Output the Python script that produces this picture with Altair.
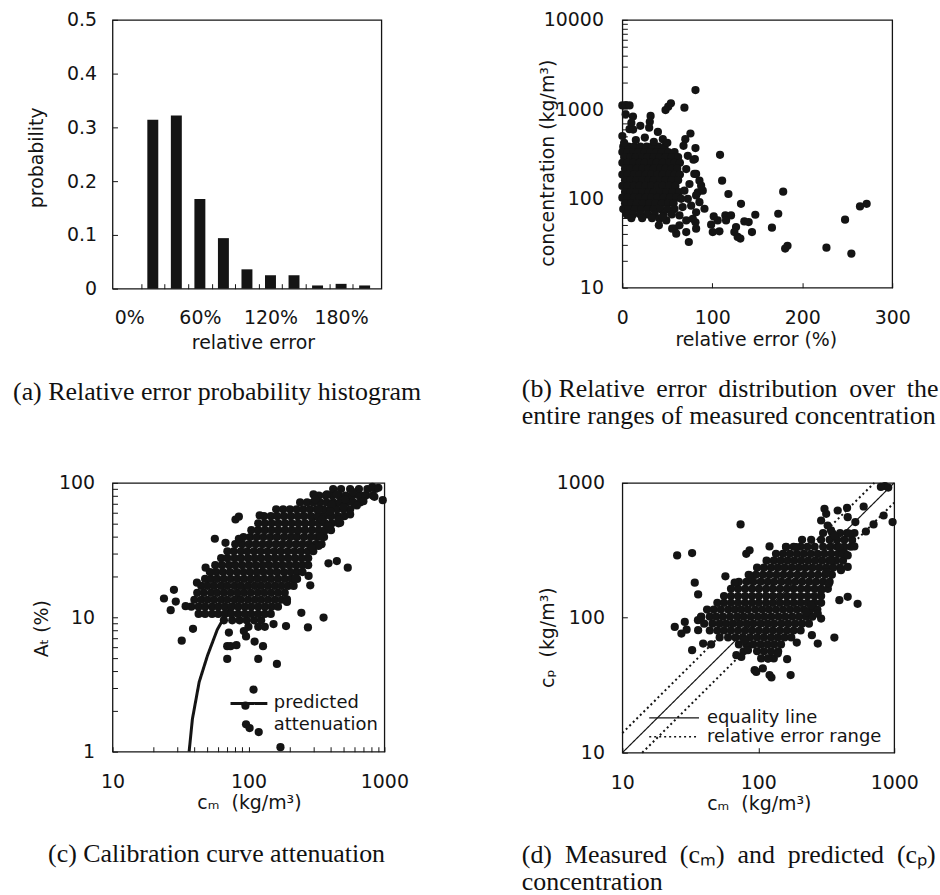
import altair as alt
import pandas as pd

INK = "#141414"
FONT = "DejaVu Sans"
SERIF = "Liberation Serif"

# ---------------- (a) relative error histogram ----------------
A_BIN = [20, 40, 60, 80, 100, 120, 140, 160, 180, 200]
A_PROB = [0.314, 0.322, 0.167, 0.094, 0.036, 0.025, 0.025, 0.006, 0.009, 0.006]
A_X_VALUES = [0, 10, 20, 30, 40, 50, 60, 70, 80, 90, 100, 110, 120, 130, 140, 150,
              160, 170, 180, 190, 200]
A_Y_VALUES = [0, 0.1, 0.2, 0.3, 0.4, 0.5]

# ---------------- (b) relative error vs concentration ----------------
B_CORE_CONC = [380, 330, 290, 250, 215, 185, 160, 138, 118, 102, 88, 76, 66, 60]
B_CORE_ERR = [
    [1, 7, 13, 20, 27, 33, 40, 47],
    [0, 6, 12, 18, 25, 31, 38, 44, 51, 58],
    [2, 9, 15, 22, 28, 35, 41, 48, 55, 62],
    [0, 6, 12, 19, 25, 32, 38, 45, 52, 58, 64],
    [3, 9, 16, 22, 29, 35, 42, 48, 55, 61],
    [0, 6, 13, 19, 26, 32, 39, 45, 52, 58, 64],
    [3, 9, 16, 22, 29, 35, 42, 48, 55, 62],
    [0, 6, 13, 19, 26, 32, 39, 45, 52, 59],
    [3, 9, 16, 22, 29, 35, 42, 49, 56, 63],
    [0, 6, 13, 19, 26, 32, 39, 46, 53, 60],
    [3, 10, 16, 23, 30, 37, 44, 51, 57],
    [1, 7, 14, 21, 28, 35, 42, 50, 58],
    [5, 12, 20, 28, 36, 46, 55],
    [10, 22, 33],
]
B_OUT_ERR = [81.3, 0, 4, 8, 3.7, 11.8, 54, 51, 48, 69, 31.4, 30.5, 29.8, 0, 8, 12, 39.5, 45,
             75.7, 70, 81.3, 108.6, 110.9, 117.9, 131.9, 91.3, 101.6, 106, 98.7, 100.5, 107.9,
             114.5, 120.8, 115.3, 126.4, 124.5, 128.2, 131.2, 135.6, 140.4, 147.8, 144.1, 178.8,
             173.3, 166.3, 181, 183.6, 226.9, 247.6, 254.6, 264.2, 271.6, 73.9, 59.9, 58, 71, 82,
             81.3, 82, 78.3, 85.7, 83.9, 85.7, 82, 80.6, 89.4, 41.4, 40.6, 68, 72.8, 79, 71, 80,
             74.6, 69, 82, 72.8, 76.5, 65.4, 67, 63.5, 71, 63.5, 55.4, 48.8, 45, 87.6, 10, 20, 25,
             15, 35, 50, 2]
B_OUT_CONC = [1634, 1100, 1110, 1100, 875, 824, 1160, 1064, 977, 1038, 840, 720, 620, 500, 596,
              590, 556, 461, 533, 461, 366, 308, 158, 112, 87, 76.6, 62.9, 56.7, 50.8, 42, 42.8,
              64.5, 64.5, 56.7, 47.8, 42, 37, 35.5, 55.3, 54.3, 65.6, 42, 119, 67.3, 47, 27.4,
              29.4, 28.1, 57.7, 24.1, 81.3, 87, 32.5, 40.3, 45.8, 42, 45.8, 54, 70, 59, 90.8, 117,
              158, 188, 276, 122, 59, 50, 388, 300, 271, 213, 188, 145, 122, 108, 99, 83, 99, 80,
              64.5, 56.7, 50, 45.8, 56.7, 62, 139, 700, 650, 480, 450, 430, 420, 420]

# ---------------- (c) calibration curve attenuation ----------------
C_LINE_CM = [36.6, 38.7, 43.4, 50, 59, 70, 85, 100, 130, 170, 220, 300, 435, 600, 800, 955]
C_LINE_AT = [1, 1.75, 3.3, 5.2, 8.1, 11, 14.5, 17.5, 24, 32, 41, 53, 68, 79, 88, 92]
C_CORE_AT = [8.5, 9.5, 10.6, 12, 13.5, 15.2, 17.1, 19.3, 21.7, 24.4, 27.5, 31, 35, 39.5, 44.5,
             50, 56.5, 63.5, 71.5, 80.5, 90]
C_CORE_CM = [
    [100, 118, 132],
    [66, 76, 86, 97, 110, 124],
    [43, 48, 54, 60, 67, 75, 84, 94, 105, 118, 132, 146],
    [38, 43, 48, 54, 60, 67, 75, 84, 94, 105, 118, 132, 148, 165],
    [40, 45, 50, 56, 63, 70, 79, 88, 99, 111, 124, 139, 156, 175],
    [42, 47, 53, 59, 66, 74, 83, 93, 104, 117, 131, 147, 165, 185],
    [45, 50, 56, 63, 70, 79, 88, 99, 111, 124, 139, 156, 175, 196, 215],
    [48, 53, 59, 66, 74, 83, 93, 104, 117, 131, 147, 165, 185, 207, 228],
    [52, 58, 65, 73, 82, 92, 103, 115, 129, 145, 162, 182, 204, 228, 250],
    [57, 64, 72, 80, 90, 101, 113, 127, 142, 159, 178, 200, 224, 250, 275],
    [63, 70, 79, 88, 99, 111, 124, 139, 156, 175, 196, 220, 246, 275],
    [70, 78, 88, 98, 110, 123, 138, 155, 173, 194, 218, 244, 273, 300],
    [80, 90, 101, 113, 127, 142, 159, 178, 200, 224, 250, 280, 314, 345],
    [92, 103, 115, 129, 145, 162, 182, 204, 228, 256, 287, 321, 360],
    [105, 118, 132, 148, 166, 186, 208, 233, 261, 293, 328, 367, 405],
    [118, 132, 148, 166, 186, 208, 233, 261, 293, 328, 367, 411, 460],
    [130, 146, 163, 183, 205, 230, 257, 288, 323, 362, 405, 454, 508],
    [160, 180, 202, 226, 253, 283, 317, 355, 398, 446, 500, 560],
    [240, 270, 300, 336, 376, 421, 472, 528, 592, 663],
    [330, 370, 414, 464, 520, 582, 652, 730, 820],
    [420, 480, 560, 650, 750, 860],
]
C_OUT_CM = [23.9, 28.3, 26.8, 29.2, 32.3, 34.5, 39.1, 41.8, 48.4, 56.6, 67.8, 80.3, 85, 85, 121,
            71.8, 69.8, 73.8, 81.6, 69.8, 92.5, 96, 118, 109, 95, 96, 102, 119, 172, 111, 128,
            162, 153, 189, 274, 245, 357, 388, 447, 538, 285, 277, 221, 192, 192, 301, 378, 447,
            586, 816, 903, 845, 973, 701, 627, 560, 473, 388, 460, 337, 328, 293, 310, 411, 328,
            500, 399, 347, 514]
C_OUT_AT = [13.8, 16, 11.3, 13.1, 6.7, 12.1, 8.2, 18.1, 23.4, 38.4, 35.8, 53.4, 56, 38.4, 57.2,
            7.7, 6.1, 6.1, 6.2, 4.9, 7.9, 7.2, 4.9, 2.9, 2.2, 1.6, 1.5, 1.4, 1.08, 6.6, 6.1, 4.5,
            8.9, 8.6, 8.4, 10.8, 9.95, 25.2, 26.2, 23.4, 17.3, 20.3, 19.4, 13.6, 13, 82, 82, 82,
            85.3, 93.4, 91.8, 78.7, 74.3, 73.1, 67.9, 58.2, 50.4, 47.7, 53.4, 40.2, 33.9, 32.9,
            75.2, 69, 63.4, 66.4, 61.6, 53.4, 75.2]

# ---------------- (d) measured vs predicted ----------------
D_EQ_CM = [10, 1000]
D_EQ_CP = [10, 1000]
D_RNG_CM = [10, 714, 14, 1000]
D_RNG_CP = [14, 1000, 10, 714]
D_RNG_SEG = ["upper", "upper", "lower", "lower"]
D_CORE_CP = [50, 56.5, 63.5, 71.5, 80.5, 90.5, 102, 115, 129, 145, 164, 185, 208, 235, 265, 298,
             336, 378, 425]
D_CORE_CM = [
    [105, 118, 130],
    [78, 98, 110, 124, 140],
    [45, 72, 82, 92, 104, 117, 131, 147],
    [52, 60, 68, 77, 87, 98, 110, 124, 139, 156, 175],
    [44, 50, 56, 63, 71, 80, 90, 101, 114, 128, 144, 162, 182, 205],
    [40, 46, 52, 58, 65, 73, 82, 92, 104, 117, 131, 148, 166, 187, 210, 236],
    [38, 44, 49, 55, 62, 70, 78, 88, 99, 111, 125, 141, 158, 178, 200, 225, 250],
    [42, 47, 53, 60, 67, 75, 84, 95, 107, 120, 135, 152, 171, 192, 216, 243, 272],
    [50, 56, 63, 71, 80, 90, 101, 114, 128, 144, 162, 182, 205, 230, 259, 290],
    [56, 63, 71, 80, 90, 101, 114, 128, 144, 162, 182, 205, 230, 259, 290],
    [63, 71, 80, 90, 101, 114, 128, 144, 162, 182, 205, 230, 259, 290, 325],
    [72, 82, 92, 104, 117, 131, 148, 166, 187, 210, 236, 265, 298, 335],
    [85, 96, 108, 121, 136, 153, 172, 194, 218, 245, 275, 310, 348],
    [98, 110, 124, 139, 156, 176, 198, 222, 250, 281, 316, 355, 400],
    [115, 130, 146, 164, 184, 207, 233, 262, 295, 332, 373, 420],
    [135, 152, 171, 192, 216, 243, 273, 307, 345, 388, 436],
    [160, 182, 205, 230, 260, 300, 340, 380, 430, 480],
    [210, 245, 290, 335, 380, 430, 490],
    [300, 350, 400, 450, 510],
]
D_OUT_CM = [74.1, 25.3, 32.6, 34.1, 36.1, 24.3, 28.8, 29.7, 27.2, 32.6, 39.3, 36.1, 57.3, 67,
            81.6, 86.3, 86.3, 121, 160, 190, 307, 384, 450, 596, 455, 518, 836, 973, 705, 619,
            855, 904, 798, 455, 395, 538, 363, 248, 274, 192, 163, 173, 121, 125, 108, 96.7, 94,
            118, 139, 290, 274, 330, 290, 245, 225, 75, 69, 84, 79.4, 316, 343, 395, 418, 455,
            509, 468, 363, 324, 290, 406, 343, 455, 316, 36, 38]
D_OUT_CP = [492, 290, 302, 182, 149, 85.5, 93.1, 81.7, 76.4, 57.5, 64.4, 80.9, 203, 182, 298,
            316, 206, 338, 334, 334, 643, 624, 653, 668, 557, 512, 573, 512, 492, 436, 948, 922,
            933, 143, 135, 127, 71.3, 74.3, 64.4, 65.5, 49.3, 37.6, 37.6, 36.1, 42.1, 39.7, 40.9,
            49.9, 54.3, 98.6, 107, 179, 160, 124, 109, 51.3, 52.8, 57.5, 68.2, 590, 444, 334,
            298, 290, 338, 420, 407, 483, 526, 225, 266, 238, 218, 96, 101]

# tick values
LOG_10_10000 = [10, 20, 30, 40, 50, 60, 70, 80, 90, 100, 200, 300, 400, 500, 600, 700, 800, 900,
                1000, 2000, 3000, 4000, 5000, 6000, 7000, 8000, 9000, 10000]
LOG_10_1000 = [10, 20, 30, 40, 50, 60, 70, 80, 90, 100, 200, 300, 400, 500, 600, 700, 800, 900,
               1000]
LOG_1_100 = [1, 2, 3, 4, 5, 6, 7, 8, 9, 10, 20, 30, 40, 50, 60, 70, 80, 90, 100]
B_X_VALUES = [0, 100, 200, 300]
D_VALUES = [10, 100, 1000]

DOT = 68
AX_FS = 19


def rows_to_table(ys, rows, xname, yname):
    xs_out, ys_out = [], []
    for yv, row in zip(ys, rows):
        for xv in row:
            xs_out.append(xv)
            ys_out.append(yv)
    return pd.DataFrame({xname: xs_out, yname: ys_out})


def ax(**kw):
    base = dict(domain=False, grid=False, ticks=True, tickSize=5, offset=-5, tickColor=INK,
                tickWidth=1, labelFont=FONT, labelFontSize=AX_FS, labelColor=INK,
                labelOverlap=False, labelFlush=False, titleFont=FONT, titleFontSize=AX_FS,
                titleFontWeight="normal", titleColor=INK, titleBaseline="alphabetic")
    base.update(kw)
    return alt.Axis(**base)


def decade_labels(vals):
    test = " || ".join("datum.value == %s" % v for v in vals)
    return "(%s) ? format(datum.value, 'd') : ''" % test


def caption(text, anchor, dx, offset):
    return alt.TitleParams(text=text, orient="bottom", anchor=anchor, frame="group", dx=dx,
                           offset=offset, font=SERIF, fontSize=26, fontWeight="normal",
                           color="#111111", lineHeight=27)


def legend(x, y, size, width, offset, **kw):
    base = dict(orient="none", legendX=x, legendY=y, title=None, symbolType="stroke",
                symbolSize=size, symbolStrokeWidth=width, symbolStrokeColor=INK,
                labelFont=FONT, labelFontSize=18, labelColor=INK, labelOffset=offset,
                labelLimit=400, padding=0)
    base.update(kw)
    return alt.Legend(**base)


# ---------- panel (a) ----------
df_a = pd.DataFrame({"bin": A_BIN, "prob": A_PROB})
chart_a = alt.Chart(df_a).mark_bar(size=11, color=INK, orient="vertical").encode(
    x=alt.X("bin:Q", scale=alt.Scale(domain=[-10, 210], nice=False, zero=False),
            axis=ax(values=A_X_VALUES,
                    labelExpr="datum.value % 60 == 0 ? datum.value + '%' : ''",
                    tickOpacity={"condition": {"test": "datum.value % 20 == 10", "value": 1},
                                 "value": 0},
                    labelPadding=20, title="relative error", titleX=141, titleY=64.7)),
    y=alt.Y("prob:Q", scale=alt.Scale(domain=[0, 0.5], nice=False),
            axis=ax(values=A_Y_VALUES, format="~g", labelPadding=16, title="probability",
                    titleX=-75.3, titleY=138)),
).properties(width=270, height=270,
             title=caption("(a) Relative error probability histogram", "middle", -30, 27))

# ---------- panel (b) ----------
df_b = pd.concat([rows_to_table(B_CORE_CONC, B_CORE_ERR, "err", "conc"),
                  pd.DataFrame({"err": B_OUT_ERR, "conc": B_OUT_CONC})], ignore_index=True)
chart_b = alt.Chart(df_b).mark_circle(size=DOT, color=INK, opacity=1).encode(
    x=alt.X("err:Q", scale=alt.Scale(domain=[0, 300], nice=False, zero=False),
            axis=ax(values=B_X_VALUES, format="d", labelPadding=21,
                    title="relative error (%)", titleX=134, titleY=62.7)),
    y=alt.Y("conc:Q", scale=alt.Scale(type="log", domain=[10, 10000], nice=False),
            axis=ax(values=LOG_10_10000, labelExpr=decade_labels([10, 100, 1000, 10000]),
                    labelPadding=19, title="concentration (kg/m³)", titleX=-74.3,
                    titleY=143.5)),
).properties(width=271, height=269,
             title=caption(["(b) Relative\u2009 error\u2009 distribution\u2009 over\u2009 the",
                            "entire ranges of measured concentration"], "start", -101, 27))

# ---------- panel (c) ----------
xs_c = alt.Scale(type="log", domain=[10, 1000], nice=False)
ys_c = alt.Scale(type="log", domain=[1, 100], nice=False)
x_c = alt.X("cm:Q", scale=xs_c,
            axis=ax(values=LOG_10_1000, labelExpr=decade_labels([10, 100, 1000]),
                    labelPadding=21, title="cₘ\u00a0\u00a0(kg/m³)", titleX=137, titleY=62))
y_c = alt.Y("at:Q", scale=ys_c,
            axis=ax(values=LOG_1_100, labelExpr=decade_labels([1, 10, 100]), labelPadding=18,
                    title="Aₜ (%)", titleX=-70.3, titleY=146))
df_c_line = pd.DataFrame({"cm": C_LINE_CM, "at": C_LINE_AT})
df_c_line["lname"] = "predicted"
df_c_pts = pd.concat([rows_to_table(C_CORE_AT, C_CORE_CM, "cm", "at"),
                      pd.DataFrame({"cm": C_OUT_CM, "at": C_OUT_AT})], ignore_index=True)
df_c_pts["pname"] = "attenuation"
line_c = alt.Chart(df_c_line).mark_line(color=INK, strokeWidth=3).encode(
    x=x_c, y=y_c,
    strokeDash=alt.StrokeDash("lname:N",
                              scale=alt.Scale(domain=["predicted"], range=[[1, 0]]),
                              legend=legend(117, 201.5, 1369, 3, 5)),
)
pts_c = alt.Chart(df_c_pts).mark_point(filled=True, size=DOT, color=INK, opacity=1).encode(
    x=x_c, y=y_c,
    shape=alt.Shape("pname:N", scale=alt.Scale(domain=["attenuation"], range=["circle"]),
                    legend=legend(117, 223.5, 1369, 3, 5, symbolOpacity=0)),
)
chart_c = alt.layer(line_c, pts_c).properties(
    width=273, height=270,
    title=caption("(c) Calibration curve attenuation", "middle", -32, 29))

# ---------- panel (d) ----------
xs_d = alt.Scale(type="log", domain=[10, 1000], nice=False)
ys_d = alt.Scale(type="log", domain=[10, 1000], nice=False)
x_d = alt.X("cm:Q", scale=xs_d,
            axis=ax(values=D_VALUES, format="d", labelPadding=21,
                    title="cₘ\u00a0\u00a0(kg/m³)", titleX=137, titleY=62))
y_d = alt.Y("cp:Q", scale=ys_d,
            axis=ax(values=D_VALUES, format="d", labelPadding=18,
                    title="cₚ\u00a0\u00a0(kg/m³)", titleX=-74.3, titleY=155))
df_d_eq = pd.DataFrame({"cm": D_EQ_CM, "cp": D_EQ_CP})
df_d_eq["eqname"] = "equality line"
df_d_rng = pd.DataFrame({"cm": D_RNG_CM, "cp": D_RNG_CP, "seg": D_RNG_SEG})
df_d_rng["rname"] = "relative error range"
df_d_pts = pd.concat([rows_to_table(D_CORE_CP, D_CORE_CM, "cm", "cp"),
                      pd.DataFrame({"cm": D_OUT_CM, "cp": D_OUT_CP})], ignore_index=True)
eq_d = alt.Chart(df_d_eq).mark_line(color=INK, strokeWidth=1.2).encode(
    x=x_d, y=y_d,
    strokeDash=alt.StrokeDash("eqname:N",
                              scale=alt.Scale(domain=["equality line"], range=[[1, 0]]),
                              legend=legend(26, 210, 2500, 1.2, 7)),
)
rng_d = alt.Chart(df_d_rng).mark_line(color=INK, strokeWidth=2, strokeDash=[2, 3]).encode(
    x=x_d, y=y_d, detail="seg:N",
    opacity=alt.Opacity("rname:N",
                        scale=alt.Scale(domain=["relative error range"], range=[1]),
                        legend=legend(26, 229, 2500, 1.5, 7, symbolDash=[2, 3])),
)
pts_d = alt.Chart(df_d_pts).mark_circle(size=DOT, color=INK, opacity=1).encode(x=x_d, y=y_d)
chart_d = alt.layer(eq_d, rng_d, pts_d).properties(
    width=273, height=271,
    title=caption(["(d)\u2005 Measured\u2005 (cₘ)\u2005 and\u2005 predicted\u2005 (cₚ)",
                   "concentration"], "start", -101, 29))

chart = alt.concat(chart_a, chart_b, chart_c, chart_d, columns=2,
                   spacing={"row": 195, "column": 239}, bounds="flush")
chart = chart.resolve_scale(strokeDash="independent", opacity="independent",
                            shape="independent").resolve_legend(
    strokeDash="independent", opacity="independent", shape="independent")
chart = chart.properties(padding={"left": 12, "top": 8, "right": 0, "bottom": 2},
                         background="white")
chart = chart.configure_view(stroke=INK, strokeWidth=1.3)

chart.save("out.html", embed_options={"renderer": "svg", "actions": False})
